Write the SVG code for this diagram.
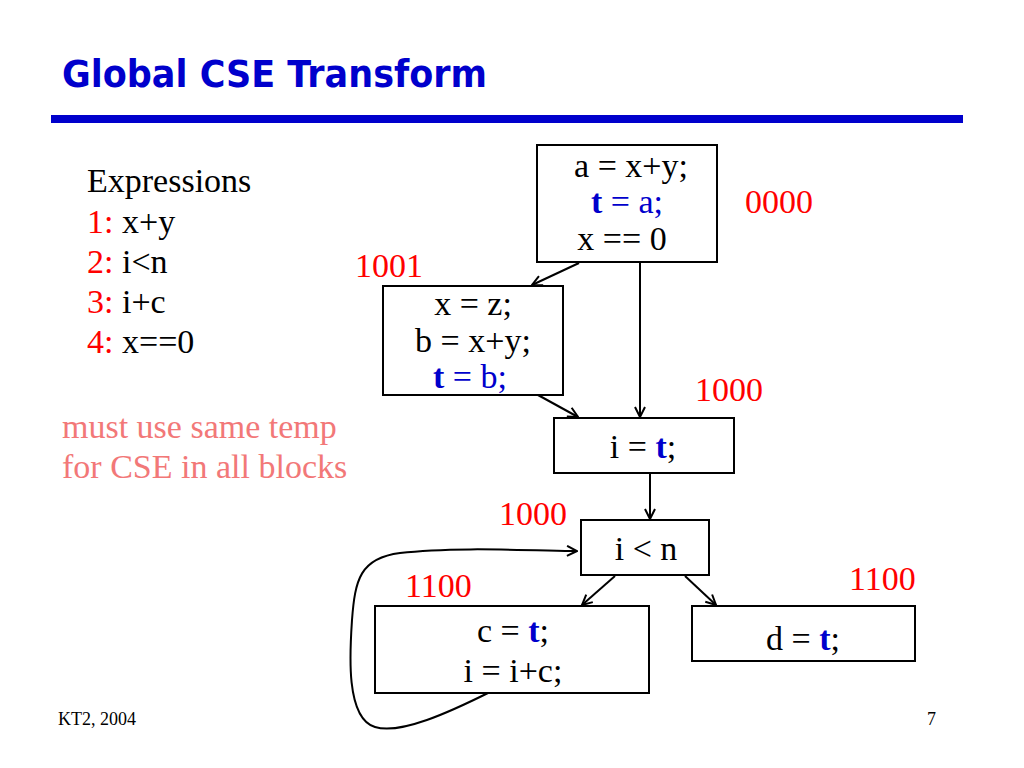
<svg xmlns="http://www.w3.org/2000/svg" width="1024" height="768" viewBox="0 0 1024 768">
<defs>
<style>
.t{font-family:"Liberation Serif","Times New Roman",serif;font-size:34px;fill:#000}
.c{text-anchor:middle}
.r{fill:#ff0000}
.p{fill:#f27878}
.b{fill:#0000cc}
.bb{fill:#0000cc;font-weight:bold}
.box{fill:#fff;stroke:#000;stroke-width:2}
.edge{fill:none;stroke:#000;stroke-width:2;marker-end:url(#ah)}
.title{font-family:"Comic Sans MS","DejaVu Sans","Liberation Sans",sans-serif;font-weight:bold;font-size:37px;fill:#0000cc}
.foot{font-family:"Liberation Serif","Times New Roman",serif;font-size:18px;fill:#000}
</style>
<marker id="ah" viewBox="0 0 12 12" refX="11" refY="6" markerWidth="12" markerHeight="12" markerUnits="userSpaceOnUse" orient="auto">
<path d="M1,1 L11,6 L1,11" fill="none" stroke="#000" stroke-width="2"/>
</marker>
</defs>
<rect width="1024" height="768" fill="#fff"/>
<text class="title" x="62" y="87" textLength="425" lengthAdjust="spacingAndGlyphs">Global CSE Transform</text>
<rect x="51" y="115" width="912" height="8" fill="#0000cc"/>

<g id="legend">
<text class="t" x="87" y="192">Expressions</text>
<text class="t" x="87" y="233"><tspan class="r">1:</tspan> x+y</text>
<text class="t" x="87" y="273"><tspan class="r">2:</tspan> i&lt;n</text>
<text class="t" x="87" y="313"><tspan class="r">3:</tspan> i+c</text>
<text class="t" x="87" y="353"><tspan class="r">4:</tspan> x==0</text>
</g>
<g id="note">
<text class="t p" x="62" y="438">must use same temp</text>
<text class="t p" x="62" y="478">for CSE in all blocks</text>
</g>

<g id="connectors">
<line class="edge" x1="579" y1="263" x2="532" y2="285"/>
<line class="edge" x1="640" y1="263" x2="640" y2="417"/>
<line class="edge" x1="538" y1="395" x2="578" y2="417"/>
<line class="edge" x1="650" y1="474" x2="650" y2="519"/>
<line class="edge" x1="615" y1="576" x2="582" y2="605"/>
<line class="edge" x1="685" y1="576" x2="716" y2="605"/>
<path class="edge" d="M490,692 C450,712 400,735 375,727 C345,718 350,650 352,620 C355,580 360,558 400,553 C450,547 520,550 577,551"/>
</g>

<g id="b1">
<rect class="box" x="537" y="145" width="180" height="117"/>
<text class="t c" x="631" y="177">a = x+y;</text>
<text class="t c" x="627" y="213"><tspan class="bb">t</tspan><tspan class="b"> = a;</tspan></text>
<text class="t c" x="622" y="250">x == 0</text>
</g>
<text id="l1" class="t r" x="745" y="213">0000</text>

<g id="b2">
<rect class="box" x="383" y="286" width="180" height="109"/>
<text class="t c" x="473" y="315">x = z;</text>
<text class="t c" x="473" y="352">b = x+y;</text>
<text class="t c" x="470" y="388"><tspan class="bb">t</tspan><tspan class="b"> = b;</tspan></text>
</g>
<text id="l2" class="t r" x="355" y="277">1001</text>

<g id="b3">
<rect class="box" x="554" y="418" width="180" height="55"/>
<text class="t c" x="643" y="458">i = <tspan class="bb">t</tspan>;</text>
</g>
<text id="l3" class="t r" x="695" y="401">1000</text>

<g id="b4">
<rect class="box" x="581" y="520" width="128" height="55"/>
<text class="t c" x="646" y="560">i &lt; n</text>
</g>
<text id="l4" class="t r" x="499" y="525">1000</text>

<g id="b5">
<rect class="box" x="375" y="606" width="274" height="87"/>
<text class="t c" x="513" y="642">c = <tspan class="bb">t</tspan>;</text>
<text class="t c" x="513" y="682">i = i+c;</text>
</g>
<text id="l5" class="t r" x="405" y="597">1100</text>

<g id="b6">
<rect class="box" x="692" y="606" width="223" height="55"/>
<text class="t c" x="803" y="650">d = <tspan class="bb">t</tspan>;</text>
</g>
<text id="l6" class="t r" x="849" y="590">1100</text>

<text class="foot" x="58" y="725">KT2, 2004</text>
<text class="foot" x="927" y="725">7</text>
</svg>
